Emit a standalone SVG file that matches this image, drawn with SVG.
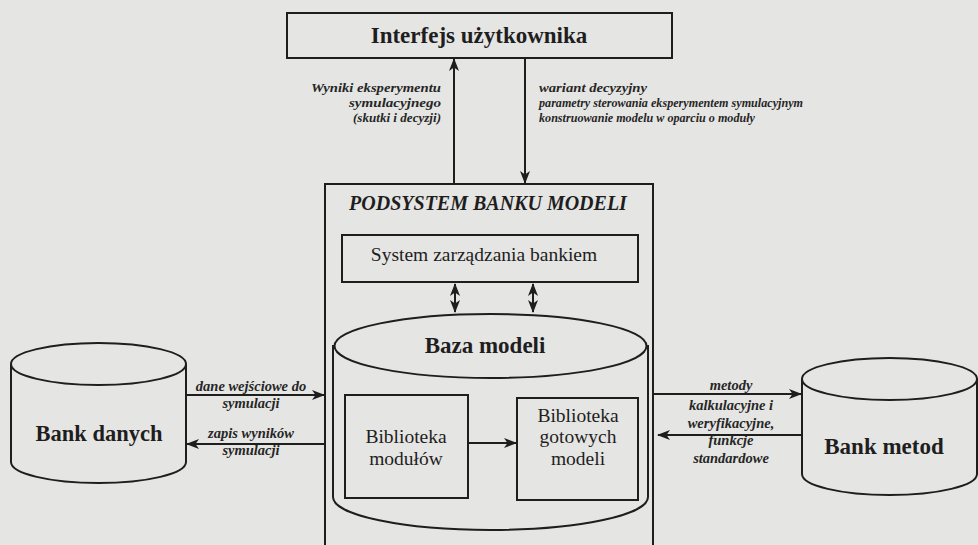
<svg xmlns="http://www.w3.org/2000/svg" width="978" height="545" viewBox="0 0 978 545">
<style>
.ln{fill:none;stroke:#1e1e1e;stroke-width:2}
.t{font-family:'Liberation Serif','DejaVu Serif',serif;fill:#1e1e1e}
.b{font-weight:bold}
.lab{font-family:'Liberation Serif','DejaVu Serif',serif;font-style:italic;font-weight:bold;font-size:14.5px;fill:#262626}
.top{font-size:13px}
</style>
<defs>
<marker id="ah" markerUnits="userSpaceOnUse" markerWidth="13" markerHeight="11" refX="12" refY="5" orient="auto-start-reverse" viewBox="0 0 13 10">
<path d="M0,0 L13,5 L0,10 L3.5,5 z" fill="#1e1e1e"/>
</marker>
</defs>
<rect width="978" height="545" fill="#e5e5e3"/>
<g id="connectors">
<line class="ln" x1="454" y1="184" x2="454" y2="59" marker-end="url(#ah)"/>
<line class="ln" x1="525" y1="58" x2="525" y2="183" marker-end="url(#ah)"/>
<line class="ln" x1="455" y1="284" x2="455" y2="312" marker-start="url(#ah)" marker-end="url(#ah)"/>
<line class="ln" x1="533" y1="284" x2="533" y2="312" marker-start="url(#ah)" marker-end="url(#ah)"/>
<line class="ln" x1="468" y1="443" x2="516" y2="443" marker-end="url(#ah)"/>
<line class="ln" x1="186" y1="395" x2="324" y2="395" marker-end="url(#ah)"/>
<line class="ln" x1="325" y1="444" x2="187" y2="444" marker-end="url(#ah)"/>
<line class="ln" x1="653" y1="394" x2="801" y2="394" marker-end="url(#ah)"/>
<line class="ln" x1="802" y1="435" x2="658" y2="435" marker-end="url(#ah)"/>
<text class="lab top" text-anchor="end" x="441" y="92" textLength="130" lengthAdjust="spacingAndGlyphs">Wyniki eksperymentu</text>
<text class="lab top" text-anchor="end" x="441" y="107" textLength="92" lengthAdjust="spacingAndGlyphs">symulacyjnego</text>
<text class="lab top" text-anchor="end" x="441" y="122" textLength="88" lengthAdjust="spacingAndGlyphs">(skutki i decyzji)</text>
<text class="lab top" x="539" y="92" textLength="108" lengthAdjust="spacingAndGlyphs">wariant decyzyjny</text>
<text class="lab top" x="539" y="107" textLength="264" lengthAdjust="spacingAndGlyphs">parametry sterowania  eksperymentem symulacyjnym</text>
<text class="lab top" x="539" y="122" textLength="216" lengthAdjust="spacingAndGlyphs">konstruowanie modelu w oparciu o moduły</text>
<text class="lab" text-anchor="middle" x="251" y="391">dane wejściowe do</text>
<text class="lab" text-anchor="middle" x="251" y="408">symulacji</text>
<text class="lab" text-anchor="middle" x="251" y="438">zapis wyników</text>
<text class="lab" text-anchor="middle" x="251" y="455">symulacji</text>
<text class="lab" text-anchor="middle" x="731" y="390">metody</text>
<text class="lab" text-anchor="middle" x="731" y="410">kalkulacyjne i</text>
<text class="lab" text-anchor="middle" x="731" y="428">weryfikacyjne,</text>
<text class="lab" text-anchor="middle" x="731" y="445">funkcje</text>
<text class="lab" text-anchor="middle" x="731" y="463">standardowe</text>
</g>
<g id="interfejs">
<rect class="ln" x="287" y="13" width="385" height="45"/>
<text class="t b" x="479" y="43" font-size="23" text-anchor="middle">Interfejs użytkownika</text>
</g>
<g id="podsystem">
<rect class="ln" x="325" y="184" width="328" height="380"/>
<text class="t b" x="488" y="210" font-size="20" font-style="italic" text-anchor="middle">PODSYSTEM BANKU MODELI</text>
</g>
<g id="system-zarzadzania">
<rect class="ln" x="342" y="235" width="296" height="47"/>
<text class="t" x="484" y="261" font-size="19.5" text-anchor="middle">System zarządzania bankiem</text>
</g>
<g id="baza-modeli">
<path class="ln" d="M333,345 L333,497 A157.5,33 0 0 0 648,497 L648,345"/>
<ellipse class="ln" cx="490.5" cy="346" rx="156" ry="32"/>
<text class="t b" x="485" y="353" font-size="23" text-anchor="middle">Baza modeli</text>
</g>
<g id="biblioteka-modulow">
<rect class="ln" x="345" y="395" width="123" height="103"/>
<text class="t" x="406" y="443" font-size="19.5" text-anchor="middle">Biblioteka</text>
<text class="t" x="406" y="465" font-size="19.5" text-anchor="middle">modułów</text>
</g>
<g id="biblioteka-gotowych">
<rect class="ln" x="517" y="398" width="121" height="102"/>
<text class="t" x="578" y="422" font-size="19.5" text-anchor="middle">Biblioteka</text>
<text class="t" x="578" y="443" font-size="19.5" text-anchor="middle">gotowych</text>
<text class="t" x="578" y="465" font-size="19.5" text-anchor="middle">modeli</text>
</g>
<g id="bank-danych">
<path class="ln" d="M11,364 L11,462 A87.5,21 0 0 0 186,462 L186,364"/>
<ellipse class="ln" cx="98.5" cy="364" rx="87.5" ry="21"/>
<text class="t b" x="99" y="441" font-size="22.5" text-anchor="middle">Bank danych</text>
</g>
<g id="bank-metod">
<path class="ln" d="M802,379 L802,474 A87.5,21 0 0 0 977,474 L977,379"/>
<ellipse class="ln" cx="889.5" cy="379" rx="87.5" ry="21"/>
<text class="t b" x="884" y="454" font-size="23" text-anchor="middle">Bank metod</text>
</g>
</svg>
